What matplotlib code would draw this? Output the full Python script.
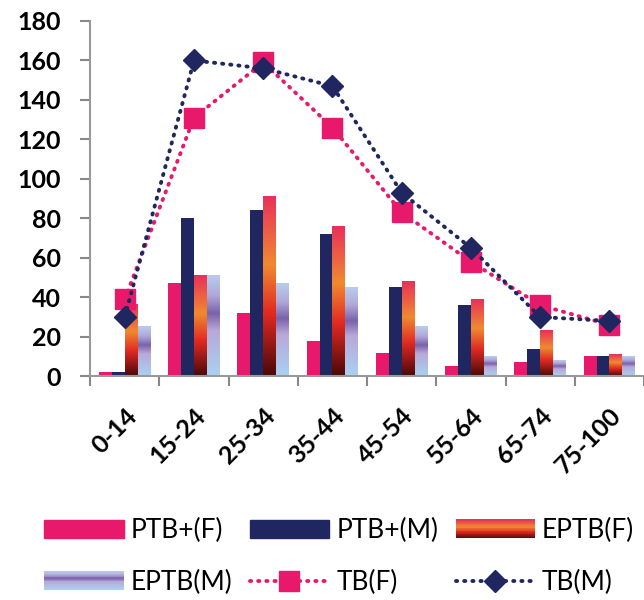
import numpy as np
import matplotlib
matplotlib.use("Agg")
import matplotlib.pyplot as plt
import matplotlib.transforms as mtransforms
from matplotlib.colors import LinearSegmentedColormap
from matplotlib.legend_handler import HandlerBase
from matplotlib.patches import Rectangle
from matplotlib.lines import Line2D

plt.rcParams['font.family'] = ['Lato', 'DejaVu Sans']

categories = ['0-14', '15-24', '25-34', '35-44', '45-54', '55-64', '65-74', '75-100']
ptb_f = [2, 47, 32, 18, 12, 5, 7, 10]
ptb_m = [2, 80, 84, 72, 45, 36, 14, 10]
eptb_f = [36, 51, 91, 76, 48, 39, 23, 11]
eptb_m = [25, 51, 47, 45, 25, 10, 8, 10]
tb_f = [39, 131, 159, 126, 83, 58, 36, 26]
tb_m = [30, 160, 156, 147, 93, 65, 30, 28]
yticks = [0, 20, 40, 60, 80, 100, 120, 140, 160, 180]

PINK = '#e8196b'
NAVY = '#1f2660'
cm_f = LinearSegmentedColormap.from_list('eptbf', [(0, '#4a0808'), (0.35, '#e02a22'), (0.62, '#f08a30'), (1.0, '#e8305a')])
cm_m = LinearSegmentedColormap.from_list('eptbm', [(0, '#a8d2f2'), (0.45, '#b8a8d8'), (0.62, '#7a62aa'), (0.8, '#b0a8d8'), (1.0, '#b8cdee')])

fig = plt.figure(figsize=(6.44, 6.0), dpi=100)
ax = fig.add_axes([0.14, 0.373, 0.86, 0.592])

x = np.arange(len(categories))
w = 0.186
grad = np.linspace(0, 1, 256).reshape(-1, 1)

ax.bar(x - 1.5 * w, ptb_f, width=w, color=PINK, zorder=2)
ax.bar(x - 0.5 * w, ptb_m, width=w, color=NAVY, zorder=2)
for xi, h in zip(x, eptb_f):
    ax.imshow(grad, extent=[xi + 0.0 * w, xi + 1.0 * w, 0, h], aspect='auto',
              cmap=cm_f, origin='lower', zorder=2, interpolation='bilinear')
for xi, h in zip(x, eptb_m):
    ax.imshow(grad, extent=[xi + 1.0 * w, xi + 2.0 * w, 0, h], aspect='auto',
              cmap=cm_m, origin='lower', zorder=2, interpolation='bilinear')

DOT = (0, (0.3, 1.8))
ax.plot(x, tb_f, linestyle=DOT, dash_capstyle='round', color=PINK, lw=2.8,
        marker='s', ms=14, mfc=PINK, mec=PINK, zorder=4)
ax.plot(x, tb_m, linestyle=DOT, dash_capstyle='round', color=NAVY, lw=2.8,
        marker='D', ms=11.5, mfc=NAVY, mec=NAVY, zorder=5)

ax.set_xlim(-0.5, 7.41)
ax.set_ylim(0, 180)
ax.set_yticks(yticks)
ax.set_yticklabels([str(v) for v in yticks], fontsize=18, fontweight='bold')
ax.set_xticks(x)
ax.set_xticklabels(categories, rotation=45, ha='right', rotation_mode='anchor',
                   fontsize=18, fontweight='bold')
off = mtransforms.ScaledTranslation(3 / 100, 0, fig.dpi_scale_trans)
for lab in ax.get_xticklabels():
    lab.set_transform(lab.get_transform() + off)
ax.set_xticks(np.arange(-0.5, 8.0, 1.0), minor=True)
ax.tick_params(axis='x', which='major', length=0, pad=20)
ax.tick_params(axis='x', which='minor', length=7, width=1.5, color='#888888', direction='out')
ax.tick_params(axis='y', length=7, width=1.5, color='#888888', pad=14)
for s in ['top', 'right']:
    ax.spines[s].set_visible(False)
for s in ['left', 'bottom']:
    ax.spines[s].set_color('#999999')
    ax.spines[s].set_linewidth(1.5)


class GradHandler(HandlerBase):
    def __init__(self, cmap, n=24):
        super().__init__()
        self.cmap = cmap
        self.n = n

    def create_artists(self, legend, orig_handle, xdescent, ydescent, width, height, fontsize, trans):
        arts = []
        for i in range(self.n):
            c = self.cmap((i + 0.5) / self.n)
            r = Rectangle((-xdescent, -ydescent + i * height / self.n), width, height / self.n + 0.3,
                          facecolor=c, edgecolor='none', transform=trans)
            arts.append(r)
        return arts


h_pf = Rectangle((0, 0), 1, 1, color=PINK)
h_pm = Rectangle((0, 0), 1, 1, color=NAVY)
h_ef = Rectangle((0, 0), 1, 1, color='#e02a22')
h_em = Rectangle((0, 0), 1, 1, color='#b0a8d8')
h_tf = Line2D([], [], linestyle=DOT, dash_capstyle='round', color=PINK, lw=2.8,
              marker='s', ms=14, mfc=PINK, mec=PINK)
h_tm = Line2D([], [], linestyle=DOT, dash_capstyle='round', color=NAVY, lw=2.8,
              marker='D', ms=11.5, mfc=NAVY, mec=NAVY)

handles = [h_pf, h_em, h_pm, h_tf, h_ef, h_tm]
labels = ['PTB+(F)', 'EPTB(M)', 'PTB+(M)', 'TB(F)', 'EPTB(F)', 'TB(M)']
fig.legend(handles, labels, ncol=3, loc='center', bbox_to_anchor=(0.527, 0.0725),
           frameon=False, fontsize=19, handlelength=3.0, handleheight=0.7,
           columnspacing=0.65, handletextpad=0.28, labelspacing=1.0,
           borderpad=0.2,
           handler_map={h_ef: GradHandler(cm_f), h_em: GradHandler(cm_m)})

fig.savefig('out.png', dpi=100)
